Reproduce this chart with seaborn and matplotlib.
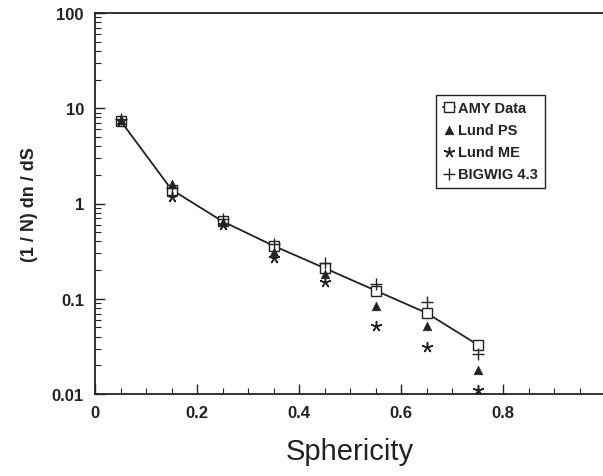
import numpy as np
import matplotlib
matplotlib.use("Agg")
import matplotlib.pyplot as plt
import matplotlib.ticker as mticker
import seaborn as sns

# values
sphericity = [0.05, 0.15, 0.25, 0.35, 0.45, 0.55, 0.65, 0.75]
amy_data = [7.4, 1.40, 0.65, 0.36, 0.21, 0.122, 0.071, 0.033]
lund_ps = [7.6, 1.60, 0.64, 0.31, 0.18, 0.083, 0.052, 0.018]
lund_me = [7.3, 1.18, 0.60, 0.27, 0.15, 0.052, 0.031, 0.011]
bigwig = [7.7, 1.46, 0.68, 0.38, 0.235, 0.143, 0.093, 0.026]

ink = "#222222"

sns.set_style("ticks")
plt.rcParams["font.family"] = ["Liberation Sans", "DejaVu Sans"]

fig = plt.figure(figsize=(6.03, 4.77), dpi=100)
ax = fig.add_axes([95 / 603, 82 / 477, 510 / 603, 381 / 477])

sns.lineplot(x=sphericity, y=amy_data, ax=ax, color=ink, lw=1.3,
             marker="s", markersize=6.5, markerfacecolor="white",
             markeredgecolor=ink, markeredgewidth=1.0, label="AMY Data")
sns.scatterplot(x=sphericity, y=lund_ps, ax=ax, marker="^", s=38,
                color=ink, edgecolor=ink, label="Lund PS", zorder=3)
sns.scatterplot(x=sphericity, y=lund_me, ax=ax, marker=(5, 2, 0), s=50,
                color=ink, linewidth=1.1, label="Lund ME", zorder=3)
sns.scatterplot(x=sphericity, y=bigwig, ax=ax, marker="+", s=80,
                color=ink, linewidth=1.0, label="BIGWIG 4.3", zorder=3)

ax.set_yscale("log")
ax.set_xlim(0, 1.0)
ax.set_ylim(0.01, 100)
ax.set_xticks([0, 0.2, 0.4, 0.6, 0.8])
ax.xaxis.set_major_formatter(mticker.FuncFormatter(lambda v, p: f"{v:g}"))
ax.xaxis.set_minor_locator(mticker.MultipleLocator(0.05))
ax.yaxis.set_major_locator(mticker.LogLocator(base=10, numticks=10))
ax.yaxis.set_minor_locator(mticker.LogLocator(base=10, subs=np.arange(2, 10), numticks=20))
ax.yaxis.set_major_formatter(mticker.FuncFormatter(lambda v, p: f"{v:g}"))
ax.yaxis.set_minor_formatter(mticker.NullFormatter())

ax.tick_params(which="both", direction="in", color=ink, top=False, right=False)
ax.tick_params(which="major", length=7, width=1.0, labelsize=12, labelcolor=ink, pad=8)
ax.tick_params(which="minor", length=4, width=0.8)
for lab in ax.get_xticklabels() + ax.get_yticklabels():
    lab.set_fontweight("bold")

ax.spines["right"].set_visible(False)
for side in ["left", "bottom", "top"]:
    ax.spines[side].set_color(ink)
    ax.spines[side].set_linewidth(1.3)

ax.set_xlabel("Sphericity", fontsize=21, color=ink, labelpad=12)
ax.set_ylabel("(1 / N) dn / dS", fontsize=13, fontweight="bold", color=ink, labelpad=10)

leg = ax.legend(loc="upper left", bbox_to_anchor=(0.655, 0.805), frameon=True,
                fancybox=False, framealpha=1, edgecolor=ink, handlelength=0.8,
                handletextpad=0.25, borderpad=0.45, labelspacing=0.55,
                prop={"weight": "bold", "size": 10.5})
leg.get_frame().set_linewidth(1.0)
for t in leg.get_texts():
    t.set_color(ink)

fig.savefig("out.png", dpi=100, facecolor="white")
